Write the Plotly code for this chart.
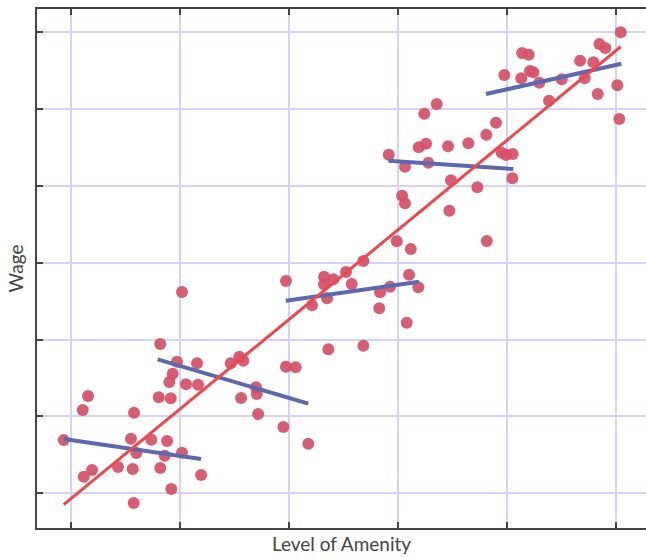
import plotly.graph_objects as go

# ---- data ----
g1_x = [-0.067, 0.107, 0.156, 0.117, 0.193, 0.431, 0.566, 0.575, 0.550, 0.578, 0.599, 0.737, 0.819, 0.881, 0.860, 0.920, 1.018, 1.193]
g1_y = [0.694, 1.084, 1.266, 0.216, 0.303, 0.342, 0.316, -0.126, 0.711, 1.049, 0.525, 0.698, 0.329, 0.681, 0.489, 0.056, 0.528, 0.238]

g2_x = [0.805, 0.915, 0.902, 0.933, 1.055, 1.165, 0.819, 0.972, 1.156, 1.018, 1.465, 1.544, 1.581, 1.697, 1.704, 1.560, 1.716, 1.948, 2.177, 1.972, 2.061]
g2_y = [1.250, 1.236, 1.449, 1.557, 1.419, 1.414, 1.943, 1.713, 1.692, 2.620, 1.692, 1.778, 1.726, 1.380, 1.292, 1.240, 1.032, 0.863, 0.646, 1.648, 1.640]

g3_x = [1.972, 2.321, 2.406, 2.321, 2.523, 2.682, 2.575, 2.211, 2.349, 2.361, 2.682, 2.835, 2.927, 2.828, 3.080, 3.101, 3.186, 3.117, 2.988]
g3_y = [2.763, 2.819, 2.785, 2.720, 2.880, 3.024, 2.724, 2.447, 2.538, 1.874, 1.921, 2.616, 2.689, 2.408, 2.220, 2.845, 2.681, 3.180, 3.280]

g4_x = [2.915, 3.064, 3.037, 3.064, 3.190, 3.257, 3.278, 3.459, 3.486, 3.471, 3.645, 3.728, 3.810, 3.814, 3.951, 3.991, 4.052, 4.049, 3.241, 3.355, 3.899]
g4_y = [4.407, 4.251, 3.873, 3.775, 4.503, 4.550, 4.303, 4.516, 4.074, 3.678, 4.556, 3.983, 4.667, 3.284, 4.433, 4.403, 4.416, 4.100, 4.941, 5.067, 4.824]

g5_x = [5.043, 4.847, 4.902, 4.670, 4.792, 4.713, 4.502, 5.012, 4.832, 5.030, 4.385, 4.296, 4.138, 4.199, 4.211, 4.241, 4.131, 3.975]
g5_y = [6.000, 5.848, 5.796, 5.631, 5.610, 5.402, 5.388, 5.310, 5.197, 4.872, 5.110, 5.344, 5.731, 5.709, 5.497, 5.480, 5.402, 5.445]

# within-group fit segments (start/end)
fit_x = [[-0.067, 1.193], [0.795, 2.177], [1.970, 3.193], [2.911, 4.058], [3.807, 5.049]]
fit_y = [[0.707, 0.446], [1.744, 1.166], [2.507, 2.754], [4.329, 4.221], [5.197, 5.592]]

# overall fit
all_fit_x = [-0.067, 5.043]
all_fit_y = [-0.148, 5.813]

groups_x = [g1_x, g2_x, g3_x, g4_x, g5_x]
groups_y = [g1_y, g2_y, g3_y, g4_y, g5_y]

POINT = "rgb(212,80,102)"
BLUE = "rgb(92,104,178)"
RED = "rgb(238,72,78)"
AXIS = "#444444"
GRID = "rgb(210,210,253)"
X_RANGE = [-0.312, 5.275]
Y_RANGE = [-0.452, 6.304]

fig = go.Figure()
for gx, gy in zip(groups_x, groups_y):
    fig.add_trace(go.Scatter(x=gx, y=gy, mode="markers",
                             marker=dict(color=POINT, size=12, opacity=0.92, line=dict(width=0)),
                             showlegend=False, hoverinfo="skip"))
for fx, fy in zip(fit_x, fit_y):
    fig.add_trace(go.Scatter(x=fx, y=fy, mode="lines",
                             line=dict(color=BLUE, width=4),
                             showlegend=False, hoverinfo="skip"))
fig.add_trace(go.Scatter(x=all_fit_x, y=all_fit_y, mode="lines",
                         line=dict(color=RED, width=3),
                         showlegend=False, hoverinfo="skip"))

tick_common = dict(ticks="inside", ticklen=6, tickwidth=2, tickcolor=AXIS,
                   showticklabels=False, zeroline=False, dtick=1, tick0=0)

fig.update_layout(
    width=646, height=558,
    margin=dict(l=37, r=0, t=9, b=30),
    paper_bgcolor="white", plot_bgcolor="white",
    font=dict(family="Lato, 'Noto Sans', sans-serif", color=AXIS),
    xaxis=dict(range=X_RANGE, showline=True, linecolor=AXIS, linewidth=2, mirror="ticks",
               showgrid=True, gridcolor=GRID, gridwidth=1.5,
               title=dict(text="Level of Amenity", font=dict(size=19), standoff=9), **tick_common),
    yaxis=dict(range=Y_RANGE, showline=True, linecolor=AXIS, linewidth=2, mirror=False,
               showgrid=True, gridcolor=GRID, gridwidth=1.5,
               title=dict(text="Wage", font=dict(size=19), standoff=6), **tick_common),
    yaxis2=dict(range=Y_RANGE, overlaying="y", side="right", matches="y", showline=False,
                showgrid=False, **tick_common),
)

fig.write_html("out.html")
